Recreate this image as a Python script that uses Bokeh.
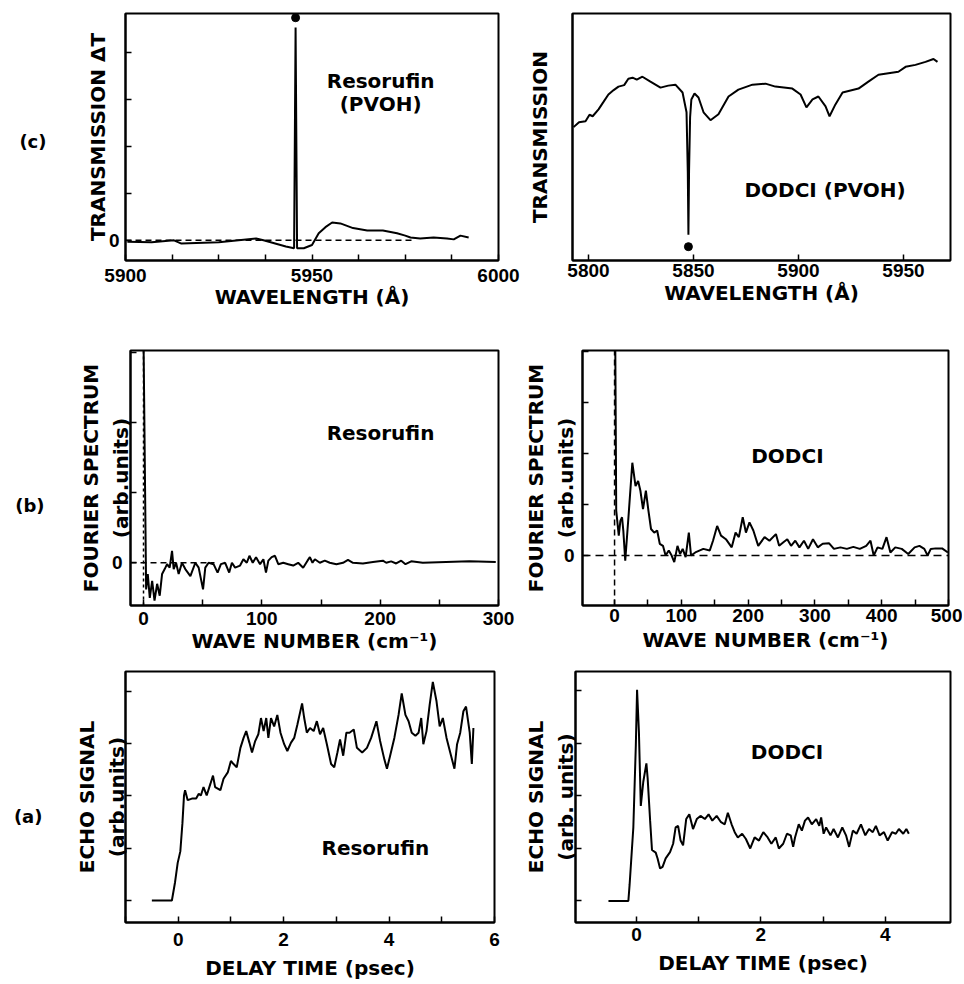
from bokeh.plotting import figure
from bokeh.models import FixedTicker, Label, Range1d, LinearAxis
from bokeh.layouts import column, row
from bokeh.embed import file_html
from bokeh.resources import INLINE

# ---------------- data ----------------
# (c) Resorufin (PVOH) transmission change
res_c_wl = [5900.5, 5907, 5913, 5915, 5925, 5935, 5937, 5943, 5945.2, 5945.6, 5946.0, 5947.8,
            5950, 5951.8, 5953.6, 5955.4, 5957.6, 5961, 5964.8, 5969, 5972.8, 5975, 5976.4,
            5979, 5982.6, 5986.2, 5988, 5989.8, 5992]
res_c_dT = [-0.03, -0.04, 0.0, -0.07, -0.04, 0.04, 0.0, -0.13, -0.17, 4.53, -0.17, -0.17,
            -0.1, 0.15, 0.28, 0.38, 0.36, 0.26, 0.21, 0.21, 0.15, 0.1, 0.06,
            0.04, 0.06, 0.04, 0.02, 0.1, 0.06]
res_c_dot = (5945.6, 4.74)

# (c) DODCI (PVOH) transmission
dod_c_wl = [5792.9, 5795.5, 5798.6, 5800.5, 5802.0, 5804.8, 5807.0, 5809.5, 5812.0, 5814.3,
            5817.0, 5819.0, 5821.0, 5823.0, 5825.7, 5829.5, 5834.3, 5838.0, 5841.4, 5844.8,
            5846.7, 5847.3, 5847.6, 5847.9, 5848.4, 5849.0, 5850.5, 5852.4, 5854.8, 5858.1,
            5861.9, 5866.7, 5871.4, 5878.1, 5884.3, 5889.0, 5897.1, 5901.0, 5903.8, 5906.7,
            5909.5, 5912.9, 5914.8, 5917.6, 5921.0, 5928.6, 5933.3, 5938.1, 5947.6, 5951.0,
            5955.7, 5960.5, 5964.3, 5966.2]
dod_c_T = [2.70, 2.80, 2.82, 2.95, 2.92, 3.06, 3.20, 3.36, 3.45, 3.52,
           3.55, 3.68, 3.70, 3.66, 3.72, 3.62, 3.50, 3.54, 3.56, 3.40,
           3.00, 1.80, 0.52, 1.80, 2.90, 3.26, 3.38, 3.30, 3.00, 2.84,
           2.96, 3.32, 3.46, 3.56, 3.58, 3.52, 3.48, 3.36, 3.10, 3.26,
           3.32, 3.12, 2.92, 3.16, 3.40, 3.48, 3.62, 3.76, 3.82, 3.92,
           3.96, 4.02, 4.08, 4.02]
dod_c_dot = (5847.6, 0.28)

# (b) Resorufin Fourier spectrum
res_b_k = [0.0, 2.2, 3.6, 5.3, 7.3, 9.3, 11.5, 13.7, 15.7, 17.9, 19.9, 22.1, 24.1, 25.5, 27.5,
           29.7, 32.5, 35.3, 39.6, 43.8, 46.6, 50.3, 52.2, 55.0, 59.2, 62.6, 65.4, 69.0,
           72.4, 74.7, 77.4, 81.6, 84.4, 87.3, 89.5, 92.3, 95.1, 98.5, 101.3, 103.5, 105.5,
           108.3, 111.1, 113.9, 118.1, 122.3, 126.5, 130.7, 134.9, 138.6, 140.6, 142.8,
           144.8, 149.0, 153.2, 157.4, 163.0, 168.6, 172.8, 177.0, 185.4, 193.9, 202.3,
           205.1, 209.3, 213.5, 217.8, 221.4, 226.2, 236.0, 255.6, 275.3, 297.7]
res_b_S = [3.2, -0.38, -0.16, -0.50, -0.26, -0.54, -0.30, -0.47, -0.16, -0.09, -0.02, -0.07,
           0.17, -0.09, 0.00, -0.16, 0.00, -0.09, -0.19, 0.00, -0.07, -0.38, -0.07, 0.00,
           -0.02, -0.14, -0.02, 0.00, -0.14, 0.00, -0.07, -0.04, 0.05, 0.00, 0.10, 0.00,
           0.08, -0.02, 0.05, -0.14, 0.03, 0.08, 0.10, -0.02, 0.00, -0.02, -0.04, 0.00,
           -0.07, 0.03, 0.08, 0.00, 0.05, 0.00, 0.03, 0.00, -0.02, 0.00, 0.04, 0.00,
           -0.01, 0.01, 0.03, 0.00, 0.02, -0.01, 0.03, -0.02, 0.02, 0.00, 0.01, 0.02, 0.01]

# (b) DODCI Fourier spectrum
dod_b_k = [1.0, 2.5, 6.3, 8.7, 11.2, 13.1, 16.0, 20.8, 26.6, 31.4, 35.3, 38.7, 42.6, 46.9,
           50.7, 54.6, 59.4, 63.8, 67.7, 72.5, 76.4, 81.2, 85.5, 89.4, 94.2, 98.1, 102.0,
           106.4, 111.2, 114.5, 120.9, 132.9, 142.6, 147.4, 153.6, 159.4, 166.7, 175.4,
           181.2, 186.1, 191.9, 196.7, 202.0, 207.8, 215.1, 224.6, 231.9, 241.6, 246.4,
           252.8, 258.6, 264.3, 270.6, 276.8, 283.6, 289.9, 297.1, 304.3, 311.6, 321.3,
           328.5, 338.2, 347.8, 357.5, 367.2, 376.8, 383.2, 388.0, 393.8, 401.0, 407.2,
           413.0, 420.3, 430.0, 439.7, 449.3, 456.5, 463.8, 468.7, 473.5, 480.7, 490.4, 499.1]
dod_b_S = [4.3, 0.88, 0.39, 0.68, 0.75, 0.49, -0.10, 0.75, 1.82, 1.36, 1.46, 1.27, 0.91, 1.27,
           0.88, 0.52, 0.45, 0.49, 0.23, 0.19, 0.00, 0.10, 0.00, -0.13, 0.19, 0.03, 0.13,
           -0.03, 0.45, 0.00, 0.06, 0.13, 0.10, 0.29, 0.58, 0.39, 0.32, 0.16,
           0.45, 0.36, 0.75, 0.45, 0.65, 0.49, 0.19, 0.36, 0.29, 0.42, 0.19,
           0.26, 0.32, 0.19, 0.29, 0.16, 0.29, 0.13, 0.32, 0.16, 0.23, 0.24,
           0.13, 0.16, 0.13, 0.17, 0.13, 0.19, 0.29, 0.00, 0.16, 0.13, 0.36,
           0.06, 0.16, 0.13, 0.03, 0.16, 0.19, 0.13, 0.00, 0.13, 0.14, 0.14, 0.06]

# (a) Resorufin echo signal
res_a_t = [-0.50, -0.12, -0.06, -0.01, 0.04, 0.08, 0.11, 0.13, 0.18, 0.26, 0.34, 0.39, 0.43,
           0.48, 0.54, 0.61, 0.66, 0.70, 0.80, 0.86, 0.94, 1.00, 1.05, 1.11, 1.18, 1.24, 1.29,
           1.35, 1.40, 1.46, 1.52, 1.57, 1.62, 1.67, 1.71, 1.76, 1.82, 1.88, 1.94, 2.01, 2.07,
           2.14, 2.20, 2.26, 2.35, 2.39, 2.44, 2.50, 2.57, 2.63, 2.69, 2.75, 2.82, 2.90, 2.96,
           3.02, 3.07, 3.13, 3.19, 3.25, 3.33, 3.39, 3.49, 3.58, 3.66, 3.76, 3.83, 3.91, 3.96,
           4.02, 4.10, 4.18, 4.24, 4.31, 4.37, 4.43, 4.50, 4.56, 4.61, 4.65, 4.71, 4.77, 4.83,
           4.90, 4.96, 5.02, 5.09, 5.16, 5.24, 5.29, 5.35, 5.41, 5.46, 5.53, 5.57, 5.60]
res_a_E = [0.00, 0.00, 0.35, 0.72, 0.94, 1.48, 2.01, 2.11, 1.92, 1.95, 1.95, 2.04, 2.01,
           2.17, 2.01, 2.23, 2.39, 2.17, 2.11, 2.33, 2.45, 2.67, 2.61, 2.55, 2.92, 3.11, 3.24,
           3.02, 2.83, 3.05, 3.18, 3.49, 3.24, 3.49, 3.11, 3.49, 3.33, 3.55, 3.21, 2.99, 2.86,
           3.02, 3.11, 3.36, 3.77, 3.49, 3.21, 3.30, 3.24, 3.43, 3.18, 3.30, 2.99, 2.61, 2.55,
           2.83, 3.08, 2.77, 3.21, 3.21, 3.27, 2.92, 2.83, 2.92, 3.11, 3.43, 3.05, 2.70, 2.52,
           2.77, 3.11, 3.55, 3.96, 3.55, 3.43, 3.21, 3.15, 3.21, 3.49, 2.99, 3.24, 3.74, 4.18,
           3.81, 3.33, 3.49, 3.11, 2.83, 2.52, 2.99, 3.21, 3.62, 3.71, 3.21, 2.61, 3.30]

# (a) DODCI echo signal
dod_a_t = [-0.45, -0.13, -0.11, -0.05, -0.01, 0.01, 0.04, 0.07, 0.11, 0.16, 0.18, 0.22, 0.25,
           0.31, 0.34, 0.38, 0.42, 0.47, 0.54, 0.59, 0.63, 0.67, 0.71, 0.75, 0.80, 0.85, 0.91,
           0.97, 1.03, 1.10, 1.16, 1.22, 1.29, 1.36, 1.42, 1.47, 1.53, 1.58, 1.63, 1.70, 1.76,
           1.83, 1.90, 1.97, 2.04, 2.11, 2.17, 2.24, 2.29, 2.36, 2.42, 2.48, 2.52, 2.55, 2.61,
           2.66, 2.71, 2.76, 2.82, 2.89, 2.94, 2.97, 3.01, 3.05, 3.12, 3.17, 3.24, 3.31, 3.37,
           3.42, 3.48, 3.54, 3.61, 3.68, 3.74, 3.80, 3.85, 3.91, 3.98, 4.04, 4.11, 4.17, 4.22,
           4.29, 4.34, 4.38]
dod_a_E = [0.00, 0.00, 0.31, 1.40, 2.96, 4.02, 3.21, 1.81, 2.27, 2.62, 2.34, 1.53, 0.97,
           0.92, 0.81, 0.62, 0.65, 0.81, 0.93, 1.09, 1.40, 1.43, 1.15, 1.06, 1.56, 1.65, 1.37,
           1.56, 1.62, 1.56, 1.65, 1.53, 1.62, 1.50, 1.46, 1.68, 1.46, 1.31, 1.21, 1.28, 1.18,
           1.00, 1.21, 1.15, 1.31, 1.21, 1.09, 1.21, 1.00, 1.09, 1.28, 1.25, 1.03, 1.21, 1.46,
           1.34, 1.53, 1.59, 1.46, 1.56, 1.43, 1.59, 1.28, 1.40, 1.25, 1.37, 1.21, 1.40, 1.25,
           1.03, 1.34, 1.28, 1.46, 1.25, 1.37, 1.31, 1.43, 1.25, 1.31, 1.15, 1.31, 1.28, 1.37,
           1.28, 1.37, 1.28]

# tick values
c_res_xticks = [5900, 5950, 6000]
c_res_xminor = [5912.5, 5925, 5937.5, 5962.5, 5975, 5987.5]
c_dod_xticks = [5800, 5850, 5900, 5950]
b_res_xticks = [0, 100, 200, 300]
b_dod_xticks = [0, 100, 200, 300, 400, 500]
a_res_xticks = [0, 2, 4, 6]
a_dod_xticks = [0, 2, 4]

# ---------------- styling helpers ----------------
AXIS_FONT = "DejaVu Sans"
TICK_FONT = "Liberation Sans"
TXT_FONT = "DejaVu Sans"


def make_fig(width, height, bl, br, bt, bb, xr, yr):
    p = figure(width=width, height=height, x_range=Range1d(*xr), y_range=Range1d(*yr),
               output_backend="svg", toolbar_location=None, tools="",
               min_border_left=bl, min_border_right=br,
               min_border_top=bt, min_border_bottom=bb)
    p.xgrid.visible = False
    p.ygrid.visible = False
    p.outline_line_color = "black"
    p.outline_line_width = 2
    p.outline_line_alpha = 1
    p.background_fill_color = "white"
    p.border_fill_color = "white"
    for ax in (p.xaxis[0], p.yaxis[0]):
        ax.axis_line_color = "black"
        ax.axis_line_width = 2
        ax.major_tick_in = 6
        ax.major_tick_out = 0
        ax.minor_tick_in = 3
        ax.minor_tick_out = 0
        ax.major_tick_line_width = 1.5
        ax.minor_tick_line_width = 1.5
        ax.major_tick_line_color = "black"
        ax.minor_tick_line_color = "black"
        ax.major_label_text_font = TICK_FONT
        ax.major_label_text_font_style = "bold"
        ax.major_label_text_font_size = "19px"
        ax.major_label_text_color = "black"
        ax.axis_label_text_font = AXIS_FONT
        ax.axis_label_text_font_style = "bold"
        ax.axis_label_text_font_size = "20px"
        ax.axis_label_text_color = "black"
    p.xaxis.axis_label_text_line_height = 1.0
    p.yaxis.axis_label_text_line_height = 1.25
    return p


def add_text(p, x, y, txt, size="20px"):
    p.add_layout(Label(x=x, y=y, text=txt, text_font=TXT_FONT, text_font_style="bold",
                       text_font_size=size, text_align="center", text_baseline="middle",
                       text_color="black"))


def add_tag(p, yval, txt, standoff):
    # panel letter drawn as the single label of an extra, invisible left axis
    ax = LinearAxis(ticker=FixedTicker(ticks=[yval], minor_ticks=[]),
                    major_label_overrides={yval: txt},
                    axis_line_color=None, major_tick_line_color=None,
                    minor_tick_line_color=None, major_tick_in=0, major_tick_out=0,
                    minor_tick_in=0, minor_tick_out=0,
                    major_label_standoff=standoff,
                    major_label_text_font=TXT_FONT, major_label_text_font_style="bold",
                    major_label_text_font_size="18px", major_label_text_color="black")
    p.add_layout(ax, "left")


LW = 2
DASH = "6 4"

# ---------------- (c) Resorufin ----------------
p1 = make_fig(520, 318, 125, 22, 13, 58, (5900, 6000), (-0.43, 4.83))
p1.xaxis.ticker = FixedTicker(ticks=c_res_xticks, minor_ticks=c_res_xminor)
p1.xaxis.minor_tick_in = 6
p1.yaxis.ticker = FixedTicker(ticks=[0], minor_ticks=[1, 2, 3, 4])
p1.yaxis.minor_tick_in = 6
p1.xaxis.axis_label = "WAVELENGTH (Å)"
p1.yaxis.axis_label = "TRANSMISSION ΔT"
p1.xaxis.major_label_standoff = 8
p1.xaxis.axis_label_standoff = 0
p1.yaxis.major_label_standoff = 6
p1.yaxis.axis_label_standoff = -4
p1.line([5900, 5977], [0, 0], line_color="black", line_width=1.5, line_dash=DASH)
p1.line(res_c_wl, res_c_dT, line_color="black", line_width=LW)
p1.scatter([res_c_dot[0]], [res_c_dot[1]], size=8, color="black")
add_text(p1, 5968.4, 3.4, "Resorufin")
add_text(p1, 5968.4, 2.91, "(PVOH)")
add_tag(p1, 2.11, "(c)", 36)

# ---------------- (c) DODCI ----------------
p2 = make_fig(442, 318, 52, 12, 13, 55, (5792.4, 5972.4), (0, 5))
p2.xaxis.ticker = FixedTicker(ticks=c_dod_xticks, minor_ticks=[])
p2.yaxis.ticker = FixedTicker(ticks=[], minor_ticks=[])
p2.xaxis.axis_label = "WAVELENGTH (Å)"
p2.yaxis.axis_label = "TRANSMISSION"
p2.xaxis.major_label_standoff = 3
p2.xaxis.axis_label_standoff = 1
p2.yaxis.axis_label_standoff = 21
p2.line(dod_c_wl, dod_c_T, line_color="black", line_width=LW)
p2.scatter([dod_c_dot[0]], [dod_c_dot[1]], size=8, color="black")
add_text(p2, 5914.3, 1.42, "DODCI  (PVOH)")

# ---------------- (b) Resorufin ----------------
p3 = make_fig(520, 337, 130, 22, 32, 50, (-11, 300), (-0.61, 3.03))
p3.xaxis.ticker = FixedTicker(ticks=b_res_xticks, minor_ticks=[50, 150, 250])
p3.xaxis.minor_tick_in = 6
p3.yaxis.ticker = FixedTicker(ticks=[0], minor_ticks=[1, 2, 3])
p3.yaxis.minor_tick_in = 6
p3.xaxis.axis_label = "WAVE NUMBER (cm⁻¹)"
p3.yaxis.axis_label = "FOURIER SPECTRUM\n(arb.units)"
p3.xaxis.major_label_standoff = 6
p3.xaxis.axis_label_standoff = 1
p3.yaxis.major_label_standoff = 8
p3.yaxis.axis_label_standoff = -24
p3.line([-11, 60], [0, 0], line_color="black", line_width=1.5, line_dash=DASH)
p3.line([0, 0], [-0.61, 3.03], line_color="black", line_width=1.5, line_dash="3 3")
p3.line(res_b_k, res_b_S, line_color="black", line_width=LW)
add_text(p3, 200.3, 1.85, "Resorufin")
add_tag(p3, 0.82, "(b)", 31)

# ---------------- (b) DODCI ----------------
p4 = make_fig(442, 337, 50, 14, 31, 50, (-48, 500), (-0.98, 4.02))
p4.xaxis.ticker = FixedTicker(ticks=b_dod_xticks, minor_ticks=[-50, 50, 150, 250, 350, 450])
p4.xaxis.minor_tick_in = 6
p4.yaxis.ticker = FixedTicker(ticks=[0], minor_ticks=[1, 2, 3, 4])
p4.yaxis.minor_tick_in = 6
p4.xaxis.axis_label = "WAVE NUMBER (cm⁻¹)"
p4.yaxis.axis_label = "FOURIER SPECTRUM\n(arb.units)"
p4.xaxis.major_label_standoff = 3
p4.xaxis.axis_label_standoff = 3
p4.yaxis.major_label_standoff = 8
p4.yaxis.axis_label_standoff = -17
p4.line([-48, 500], [0, 0], line_color="black", line_width=1.5, line_dash="8 5")
p4.line([0, 0], [-0.98, 4.02], line_color="black", line_width=1.5, line_dash="6 4")
p4.line(dod_b_k, dod_b_S, line_color="black", line_width=LW)
add_text(p4, 258.8, 1.95, "DODCI")

# ---------------- (a) Resorufin ----------------
p5 = make_fig(520, 328, 125, 26, 13, 61, (-1.0, 6.0), (-0.42, 4.38))
p5.xaxis.ticker = FixedTicker(ticks=a_res_xticks, minor_ticks=[-1, 1, 3, 5])
p5.xaxis.minor_tick_in = 6
p5.yaxis.ticker = FixedTicker(ticks=[], minor_ticks=[0, 1, 2, 3, 4])
p5.yaxis.minor_tick_in = 6
p5.xaxis.axis_label = "DELAY TIME (psec)"
p5.yaxis.axis_label = "ECHO SIGNAL\n(arb.units)"
p5.xaxis.major_label_standoff = 10
p5.xaxis.axis_label_standoff = 7
p5.yaxis.axis_label_standoff = -3
p5.line(res_a_t, res_a_E, line_color="black", line_width=LW)
add_text(p5, 3.74, 1.0, "Resorufin")
add_tag(p5, 1.60, "(a)", 29)

# ---------------- (a) DODCI ----------------
p6 = make_fig(442, 328, 48, 12, 16, 56, (-0.98, 5.05), (-0.41, 4.37))
p6.xaxis.ticker = FixedTicker(ticks=a_dod_xticks, minor_ticks=[1, 3])
p6.xaxis.minor_tick_in = 6
p6.yaxis.ticker = FixedTicker(ticks=[], minor_ticks=[0, 1, 2, 3, 4])
p6.yaxis.minor_tick_in = 6
p6.xaxis.axis_label = "DELAY TIME (psec)"
p6.yaxis.axis_label = "ECHO SIGNAL\n(arb. units)"
p6.xaxis.major_label_standoff = 5
p6.xaxis.axis_label_standoff = 7
p6.yaxis.axis_label_standoff = -2
p6.line(dod_a_t, dod_a_E, line_color="black", line_width=LW)
add_text(p6, 2.42, 2.83, "DODCI")

layout = column(row(p1, p2), row(p3, p4), row(p5, p6))
open("out.html", "w").write(file_html(layout, INLINE))
